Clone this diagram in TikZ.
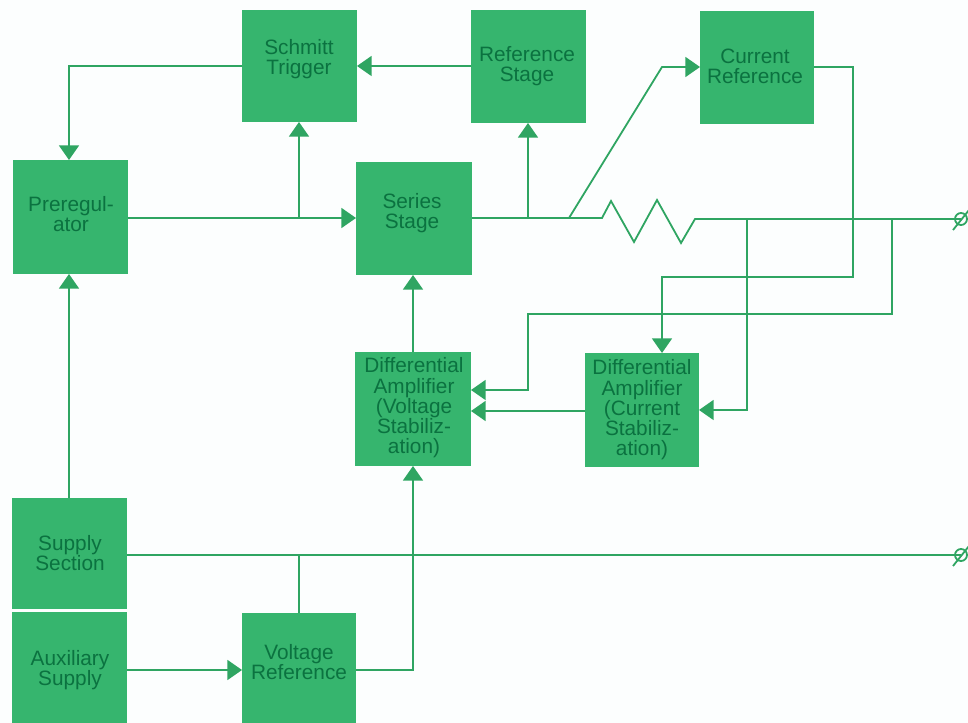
\documentclass[tikz,border=0pt]{standalone}
\usepackage{fontspec}
\setmainfont{Liberation Sans}
\usetikzlibrary{arrows.meta,calc}
\definecolor{boxgreen}{HTML}{36B56E}
\definecolor{txtgreen}{HTML}{0B7240}
\definecolor{linegreen}{HTML}{2FA562}
\definecolor{paper}{HTML}{FCFEFE}
\tikzset{
  x=0.75pt,y=-0.75pt,
  blockbox/.style={fill=boxgreen,draw=none,inner sep=0pt,outer sep=0pt},
  blocktxt/.style={text=txtgreen,align=center,font=\fontsize{15.6}{15.2}\selectfont,inner sep=0pt},
  wire/.style={draw=linegreen,line width=1.35pt,line join=miter},
  flow/.style={wire,-{Triangle[length=11pt,width=15pt]}},
}
% name, x1, y1, x2, y2, text cx, text cy, text
\newcommand{\blockat}[8]{%
  \node[blockbox,minimum width={(#4-#2)*0.75pt},minimum height={(#5-#3)*0.75pt}] (#1) at ({(#2+#4)/2},{(#3+#5)/2}) {};
  \node[blocktxt] (#1txt) at (#6,#7) {#8};
}
\begin{document}
\begin{tikzpicture}
\useasboundingbox[fill=paper] (0,0) rectangle (968,723);
\blockat{schmitt}{242}{10}{357}{122}{299}{59}{Schmitt\\Trigger}
\blockat{refstage}{471}{10}{586}{123}{527}{66}{Reference\\Stage}
\blockat{curref}{700}{11}{814}{124}{755}{66}{Current\\Reference}
\blockat{prereg}{13}{160}{128}{274}{71}{214}{Preregul-\\ator}
\blockat{series}{356}{162}{472}{275}{412}{213}{Series\\Stage}
\blockat{diffv}{355}{352}{471}{466}{414}{408}{Differential\\Amplifier\\(Voltage\\Stabiliz-\\ation)}
\blockat{diffc}{585}{353}{699}{467}{642}{410}{Differential\\Amplifier\\(Current\\Stabiliz-\\ation)}
\blockat{supply}{12}{498}{127}{609}{70}{553}{Supply\\Section}
\blockat{aux}{12}{612}{127}{723}{70}{670}{Auxiliary\\Supply}
\blockat{vref}{242}{613}{356}{723}{299}{662}{Voltage\\Reference}

\coordinate (topout) at (961,219);
\coordinate (botout) at (961,555);
\coordinate (jschmitt) at (299,218);
\coordinate (jref) at (528,218);
\coordinate (jcur) at (569,218);
\coordinate (rstart) at (602,218);
\coordinate (rend) at (695,219);
\coordinate (jdc) at (747,219);
\coordinate (jdv) at (892,219);
\coordinate (jvref) at (299,555);

% top row
\draw[flow] (schmitt.west |- 0,66) -- (69,66) -- (69,160);
\draw[flow] (refstage.west |- 0,66) -- (schmitt.east |- 0,66);
% main rail
\draw[flow] (prereg.east |- 0,218) -- (series.west |- 0,218);
\draw[flow] (jschmitt) -- (jschmitt |- schmitt.south);
\draw[wire] (series.east |- 0,218) -- (rstart)
  -- (611,201) -- (634,242) -- (657,200) -- (681,243) -- (rend) -- (topout);
\draw[flow] (jref) -- (jref |- refstage.south);
\draw[flow] (jcur) -- (662,67) -- (curref.west |- 0,67);
% current reference to current amplifier
\draw[flow] (curref.east |- 0,67) -- (853,67) -- (853,277) -- (662,277) -- (662,353);
% sense lines
\draw[flow] (jdc) -- (747,410) -- (diffc.east |- 0,410);
\draw[flow] (jdv) -- (892,314) -- (528,314) -- (528,390) -- (diffv.east |- 0,390);
\draw[flow] (diffc.west |- 0,411) -- (diffv.east |- 0,411);
\draw[flow] (413,352) -- (413,275);
% supply
\draw[flow] (supply.north -| 69,0) -- (69,274);
\draw[wire] (supply.east |- botout) -- (botout);
\draw[wire] (jvref) -- (jvref |- vref.north);
\draw[flow] (aux.east |- 0,670) -- (vref.west |- 0,670);
\draw[flow] (vref.east |- 0,670) -- (413,670) -- (413,466);
% output terminals
\foreach \t in {topout,botout}{
  \draw[linegreen,line width=1.35pt] (\t) circle (4.5pt);
  \draw[linegreen,line width=1.35pt] ($(\t)+(-8,11)$) -- ($(\t)+(8,-9)$);
}
\end{tikzpicture}
\end{document}
